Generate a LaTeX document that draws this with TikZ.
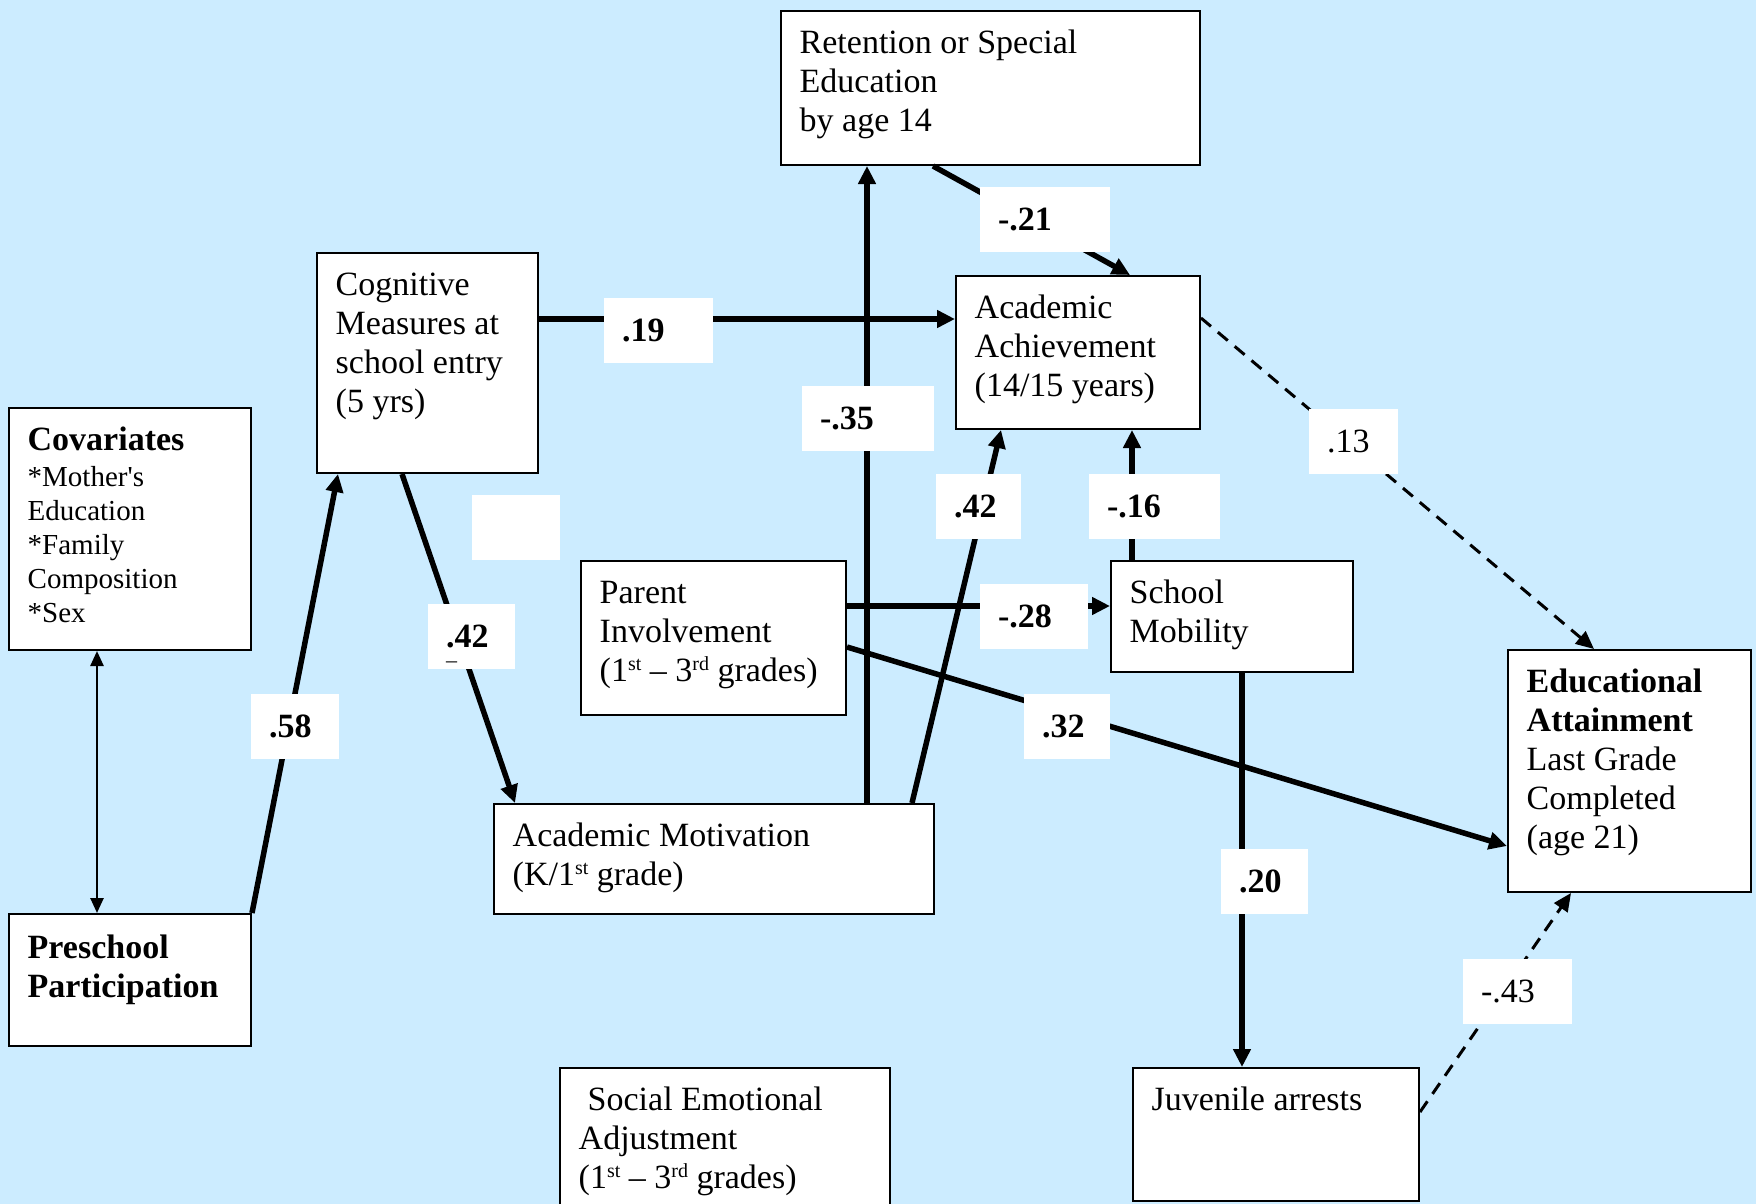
\documentclass[tikz,border=0pt]{standalone}
\usepackage{fontspec}
\setmainfont{Liberation Serif}
\usepackage{tikz}
\usetikzlibrary{arrows.meta}
\definecolor{bgcolor}{RGB}{204, 236, 255}
\newcommand{\fsmain}{\fontsize{34}{39}\selectfont}
\newcommand{\fssmall}{\fontsize{29}{34}\selectfont}
\newcommand{\supr}[1]{\raisebox{11pt}{\fontsize{20}{20}\selectfont #1}}

\begin{document}
\begin{tikzpicture}[x=1pt, y=-1pt,
    box/.style={draw, line width=2pt, fill=white, inner sep=0pt},
    txt/.style={anchor=north west, inner sep=0pt, align=left, font=\fsmain},
    lbl/.style={fill=white, inner xsep=18pt, inner ysep=0pt, minimum height=65pt, align=left, font=\fsmain\bfseries},
    link/.style={line width=5.5pt, -{Triangle[length=18pt, width=17pt]}},
    thinlink/.style={line width=2.5pt, {Triangle[length=15pt, width=13pt]}-{Triangle[length=15pt, width=13pt]}},
    dashlink/.style={line width=3pt, dash pattern=on 13pt off 9pt, -{Triangle[length=18pt, width=16pt]}}]
    % Background
    \fill[bgcolor] (0, 0) rectangle (1756, 1204);
    \useasboundingbox (0, 0) rectangle (1756, 1204);
    
    % Boxes
    \node[box, minimum width=419pt, minimum height=154pt] (ret) at (990.5, 88) {};
    \node[txt] (retT) at ([shift={(19.5pt, -16pt)}]ret.north west) {\strut Retention or Special\\Education\\by age 14};
    
    \node[box, minimum width=221pt, minimum height=220pt] (cog) at (427.5, 363) {};
    \node[txt] (cogT) at ([shift={(19.5pt, -16pt)}]cog.north west) {\strut Cognitive\\Measures at\\school entry\\(5 yrs)};
    
    \node[box, minimum width=242pt, minimum height=242pt] (cov) at (130, 529) {};
    \node[txt, font=\fssmall] (covT) at ([shift={(19.5pt, -16pt)}]cov.north west) {{\fsmain\bfseries\strut Covariates}\\[2pt]*Mother\textquotesingle s\\Education\\*Family\\Composition\\*Sex};
    
    \node[box, minimum width=244pt, minimum height=153pt] (ach) at (1078, 352.5) {};
    \node[txt] (achT) at ([shift={(19.5pt, -16pt)}]ach.north west) {\strut Academic\\Achievement\\(14/15 years)};
    
    \node[box, minimum width=265pt, minimum height=154pt] (par) at (713.5, 638) {};
    \node[txt] (parT) at ([shift={(19.5pt, -16pt)}]par.north west) {\strut Parent\\Involvement\\(1\supr{st} -- 3\supr{rd} grades)};
    
    \node[box, minimum width=242pt, minimum height=111pt] (mob) at (1232, 616.5) {};
    \node[txt] (mobT) at ([shift={(19.5pt, -16pt)}]mob.north west) {\strut School\\Mobility};
    
    \node[box, minimum width=243pt, minimum height=242pt] (edu) at (1629.5, 771) {};
    \node[txt] (eduT) at ([shift={(19.5pt, -16pt)}]edu.north west) {\strut\textbf{Educational}\\\textbf{Attainment}\\Last Grade\\Completed\\(age 21)};
    
    \node[box, minimum width=440pt, minimum height=110pt] (mot) at (714, 859) {};
    \node[txt] (motT) at ([shift={(19.5pt, -16pt)}]mot.north west) {\strut Academic Motivation\\(K/1\supr{st} grade)};
    
    \node[box, minimum width=242pt, minimum height=132pt] (pre) at (130, 980) {};
    \node[txt] (preT) at ([shift={(19.5pt, -18pt)}]pre.north west) {\strut\textbf{Preschool}\\\textbf{Participation}};
    
    \node[box, minimum width=330pt, minimum height=142pt] (soc) at (725, 1139) {};
    \node[txt] (socT) at ([shift={(19.5pt, -16pt)}]soc.north west) {\strut\hspace*{9pt}Social Emotional\\Adjustment\\(1\supr{st} -- 3\supr{rd} grades)};
    
    \node[box, minimum width=286pt, minimum height=133pt] (juv) at (1276, 1134.5) {};
    \node[txt] (juvT) at ([shift={(19.5pt, -16pt)}]juv.north west) {\strut Juvenile arrests};
    
    % Paths
    \draw[thinlink] ([xshift=-33pt]cov.south) -- ([xshift=-33pt]pre.north);
    \draw[link] (pre.north east) -- ([xshift=22pt]cog.south west);
    \draw[link] ([xshift=86pt]cog.south west) -- ([xshift=22pt]mot.north west);
    \draw[link] ([yshift=44pt]cog.east) -- ([yshift=33.5pt]ach.west);
    \draw[link] ([xshift=374pt]mot.north west) -- ([xshift=87pt]ret.south west);
    \draw[link] ([xshift=419pt]mot.north west) -- ([xshift=46pt]ach.south west);
    \draw[link] ([xshift=153pt]ret.south west) -- ([xshift=175pt]ach.north west);
    \draw[link] ([yshift=32pt]par.east) -- ([yshift=10.5pt]mob.west);
    \draw[link] ([yshift=-9pt]par.east) -- ([yshift=-75pt]edu.west);
    \draw[link] ([xshift=22pt]mob.north west) -- ([xshift=177pt]ach.south west);
    \draw[link] ([xshift=132pt]mob.south west) -- ([xshift=110pt]juv.north west);
    \draw[dashlink] ([yshift=-43pt]ach.north east) -- ([xshift=87pt]edu.north west);
    \draw[dashlink] ([yshift=-45pt]juv.north east) -- ([xshift=64pt]edu.south west);
    
    % Coefficients
    \node[lbl, text width=73pt] (l19) at (658.5, 330) {.19};
    \node[lbl, text width=94pt] (l21) at (1045, 219.5) {-.21};
    \node[lbl, text width=96pt] (l35) at (868, 418) {-.35};
    \node[lbl, text width=53pt, font=\fsmain] (l13) at (1353.5, 441) {.13};
    \node[lbl, text width=52pt] (lblank) at (516, 527.5) {};
    \node[lbl, text width=51pt] (l42a) at (471.5, 636) {\smash{\rlap{\raisebox{-20pt}{\fontsize{22}{22}\selectfont\mdseries --}}}.42};
    \node[lbl, text width=52pt] (l58) at (295, 726) {.58};
    \node[lbl, text width=49pt] (l42b) at (978.5, 506) {.42};
    \node[lbl, text width=95pt] (l16) at (1154.5, 506) {-.16};
    \node[lbl, text width=72pt] (l28) at (1034, 616.5) {-.28};
    \node[lbl, text width=50pt] (l32) at (1067, 726) {.32};
    \node[lbl, text width=51pt] (l20) at (1264.5, 881) {.20};
    \node[lbl, text width=73pt, font=\fsmain] (l43) at (1517.5, 991) {-.43};
    
\end{tikzpicture}
\end{document}
